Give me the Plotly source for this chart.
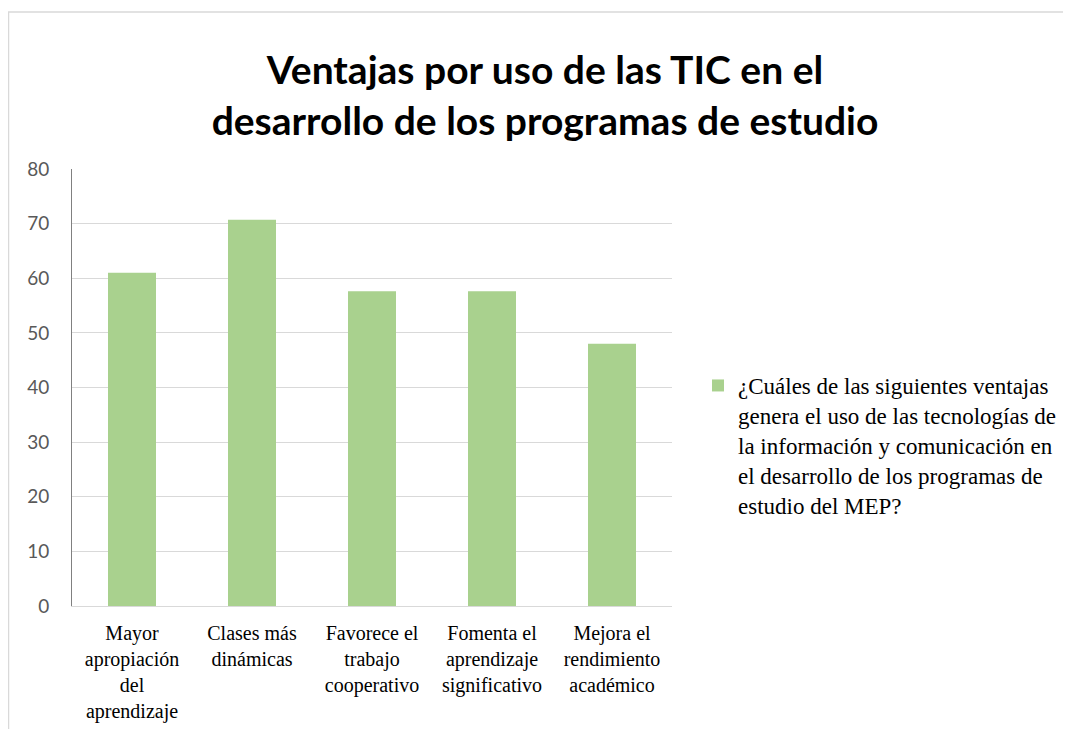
import plotly.graph_objects as go

categories = [
    "Mayor apropiación del aprendizaje",
    "Clases más dinámicas",
    "Favorece el trabajo cooperativo",
    "Fomenta el aprendizaje significativo",
    "Mejora el rendimiento académico",
]
tick_labels = [
    "Mayor<br>apropiación<br>del<br>aprendizaje",
    "Clases más<br>dinámicas",
    "Favorece el<br>trabajo<br>cooperativo",
    "Fomenta el<br>aprendizaje<br>significativo",
    "Mejora el<br>rendimiento<br>académico",
]
values = [61, 70.7, 57.6, 57.6, 48]
series_name = ("¿Cuáles de las siguientes ventajas<br>genera el uso de las tecnologías de<br>"
               "la información y comunicación en<br>el desarrollo de los programas de<br>"
               "estudio del MEP?")
title_text = "Ventajas por uso de las TIC en el<br>desarrollo de los programas de estudio"
y_ticks = [0, 10, 20, 30, 40, 50, 60, 70, 80]

# page body has an 8px margin; work in figure pixels
W, H = 1063, 721
L, R, T, B = 64, 399, 161, 123
pw, ph = W - L - R, H - T - B

def px_x(p):
    return (p - L) / pw

def px_y(p):
    return (H - B - p) / ph

fig = go.Figure()
fig.add_trace(go.Bar(
    x=categories, y=values, name=series_name,
    marker=dict(color="#A9D18E", line=dict(width=0)),
    showlegend=True,
))

border = "#D9D9D9"
serif = "'Liberation Serif', 'Times New Roman', serif"
fig.update_layout(
    width=W, height=H,
    margin=dict(l=L, r=R, t=T, b=B, autoexpand=False),
    paper_bgcolor="white", plot_bgcolor="white",
    bargap=0.6,
    title=dict(
        text=title_text, x=537 / W, xanchor="center", xref="container",
        y=1 - 76 / H, yanchor="middle", yref="container",
        font=dict(family="Lato", size=39, color="#000000", weight="bold"),
    ),
    xaxis=dict(
        tickmode="array", tickvals=categories, ticktext=tick_labels,
        tickfont=dict(family=serif, size=20, color="#000000"),
        showline=True, linecolor=border, linewidth=1,
        showgrid=False, ticks="", ticklabelstandoff=9,
    ),
    yaxis=dict(
        range=[0, 80], tickmode="array", tickvals=y_ticks,
        tickfont=dict(family="Lato", size=19, color="#595959"),
        showgrid=True, gridcolor=border, gridwidth=1,
        showline=True, linecolor="#808080", linewidth=1,
        zeroline=False, ticks="", ticklabelstandoff=18,
    ),
    legend=dict(
        x=px_x(690), xanchor="left", y=px_y(356), yanchor="top",
        font=dict(family=serif, size=23, color="#000000"),
        valign="top", bgcolor="rgba(0,0,0,0)",
    ),
    shapes=[
        dict(type="line", xref="paper", yref="paper",
             x0=px_x(0.5), x1=px_x(0.5), y0=px_y(4), y1=px_y(730),
             line=dict(color=border, width=1.5)),
        dict(type="line", xref="paper", yref="paper",
             x0=px_x(0), x1=px_x(1080), y0=px_y(4), y1=px_y(4),
             line=dict(color=border, width=1.5)),
    ],
)

fig.write_html("out.html")
